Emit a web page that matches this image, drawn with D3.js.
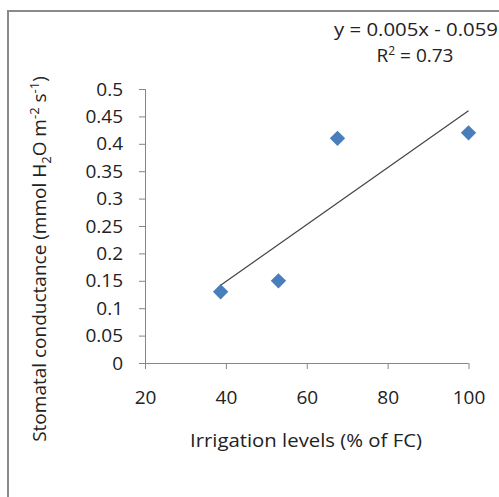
<!DOCTYPE html>
<html>
<head>
    <meta charset="utf-8" />
    <title></title>
    <script src="https://cdn.jsdelivr.net/npm/d3@7"></script>
    <style>
        body { margin: 0; background: #fff; }
        svg text { font-family: "Open Sans", sans-serif; fill: #222; }
        .axis path, .axis line { stroke: #868686; stroke-width: 1px; }
        .axis text { font-size: 19px; }
    </style>
</head>
<body>
    <svg width="499" height="497"></svg>
    <script>
        // irrigation level (% of FC) and stomatal conductance
        var irrigation = [38.7, 53, 67.6, 100];
        var conductance = [0.13, 0.15, 0.41, 0.42];
        var xTicks = [20, 40, 60, 80, 100];
        var yTicks = [0, 0.05, 0.1, 0.15, 0.2, 0.25, 0.3, 0.35, 0.4, 0.45, 0.5];

        var svg = d3.select('svg');

        // chart area border (runs off the right and bottom edge)
        svg.append('rect')
            .attr('x', 8).attr('y', 11)
            .attr('width', 600).attr('height', 600)
            .attr('fill', 'none')
            .attr('stroke', '#8a8a8a')
            .attr('stroke-width', 2);

        var x = d3.scaleLinear().domain([20, 100]).range([145, 468.5]);
        var y = d3.scaleLinear().domain([0, 0.5]).range([363, 89]);

        svg.append('g')
            .attr('class', 'axis')
            .attr('transform', 'translate(0,' + y(0) + ')')
            .call(d3.axisBottom(x).tickValues(xTicks).tickSize(6).tickPadding(22).tickSizeOuter(0))
            .call(function (g) { g.select('.domain').attr('d', 'M139,0.5H' + x(100)); });

        svg.append('g')
            .attr('class', 'axis')
            .attr('transform', 'translate(' + x(20) + ',0)')
            .call(d3.axisLeft(y).tickValues(yTicks).tickSize(6).tickPadding(16).tickSizeOuter(0)
                .tickFormat(function (d) { return String(+d.toFixed(2)); }))
            .call(function (g) { g.select('.domain').attr('d', 'M0.5,' + y(0.5) + 'V' + (y(0) + 6)); });

        // linear trendline, least squares from the data
        var mx = d3.mean(irrigation), my = d3.mean(conductance);
        var sxy = d3.sum(irrigation, function (d, i) { return (d - mx) * (conductance[i] - my); });
        var sxx = d3.sum(irrigation, function (d) { return (d - mx) * (d - mx); });
        var slope = sxy / sxx, icpt = my - slope * mx;
        var xMin = d3.min(irrigation), xMax = d3.max(irrigation);

        svg.append('line')
            .attr('x1', x(xMin)).attr('y1', y(slope * xMin + icpt))
            .attr('x2', x(xMax)).attr('y2', y(slope * xMax + icpt))
            .attr('stroke', '#444')
            .attr('stroke-width', 1.2);

        var diamond = d3.symbol().type(d3.symbolDiamond2).size(150);
        svg.selectAll('path.pt')
            .data(irrigation)
            .enter().append('path')
            .attr('class', 'pt')
            .attr('d', diamond)
            .attr('transform', function (d, i) { return 'translate(' + x(d) + ',' + y(conductance[i]) + ')'; })
            .attr('fill', '#4a7ebb');

        // equation labels
        svg.append('text').attr('x', 416).attr('y', 36).attr('text-anchor', 'middle')
            .attr('textLength', 164).attr('lengthAdjust', 'spacingAndGlyphs')
            .style('font-size', '19px').text('y = 0.005x - 0.059');
        var r2 = svg.append('text').attr('x', 415).attr('y', 62).attr('text-anchor', 'middle')
            .style('font-size', '19px');
        r2.append('tspan').text('R');
        r2.append('tspan').attr('dy', -7).style('font-size', '12px').text('2');
        r2.append('tspan').attr('dy', 7).text(' = 0.73');

        // axis titles
        svg.append('text').attr('x', 306).attr('y', 447).attr('text-anchor', 'middle')
            .attr('textLength', 232).attr('lengthAdjust', 'spacingAndGlyphs')
            .style('font-size', '19px').text('Irrigation levels (% of FC)');

        var yt = svg.append('text')
            .attr('transform', 'translate(46,259) rotate(-90)')
            .attr('text-anchor', 'middle')
            .style('font-size', '19px');
        yt.append('tspan').text('Stomatal conductance (mmol H');
        yt.append('tspan').attr('dy', 5).style('font-size', '13px').text('2');
        yt.append('tspan').attr('dy', -5).text('O m');
        yt.append('tspan').attr('dy', -7).style('font-size', '13px').text('-2');
        yt.append('tspan').attr('dy', 7).text(' s');
        yt.append('tspan').attr('dy', -7).style('font-size', '13px').text('-1');
        yt.append('tspan').attr('dy', 7).text(')');
    </script>
</body>
</html>
